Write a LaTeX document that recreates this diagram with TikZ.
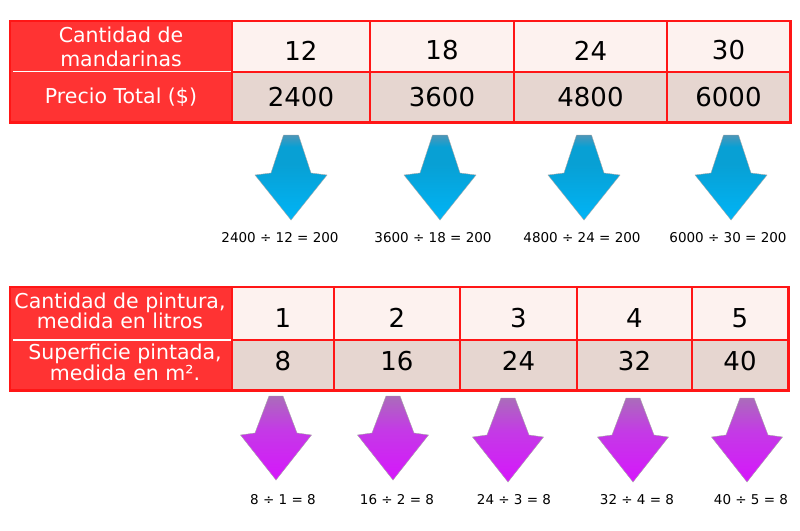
\documentclass[tikz,border=0pt]{standalone}
\usepackage{fontspec}
\setmainfont{DejaVu Sans}
\definecolor{hdred}{RGB}{255,51,51}
\definecolor{lnred}{RGB}{255,22,22}
\definecolor{rowtop}{RGB}{253,242,239}
\definecolor{rowbot}{RGB}{230,214,208}
\definecolor{bltop}{RGB}{78,150,184}
\definecolor{blmid}{RGB}{8,160,212}
\definecolor{blbot}{RGB}{0,180,246}
\definecolor{putop}{RGB}{170,108,186}
\definecolor{pumid}{RGB}{196,58,230}
\definecolor{pubot}{RGB}{214,22,252}
\pgfdeclareverticalshading{bluefade}{100bp}{color(0bp)=(blbot); color(25bp)=(blbot);
  color(58bp)=(blmid); color(68bp)=(blmid); color(75bp)=(bltop); color(100bp)=(bltop)}
\pgfdeclareverticalshading{purplefade}{100bp}{color(0bp)=(pubot); color(25bp)=(pubot);
  color(55bp)=(pumid); color(75bp)=(putop); color(100bp)=(putop)}
\tikzset{
  cell/.style={draw=lnred,line width=1.5pt,inner sep=0pt,font=\fontsize{26}{26}\selectfont},
  headbox/.style={fill=hdred,draw=lnred,line width=1.5pt,inner sep=0pt},
  headtext/.style={text=white,align=center,inner sep=0pt,font=\fontsize{20.5}{24}\selectfont},
  quot/.style={font=\fontsize{13.5}{13.5}\selectfont},
  bluearrow/.style={shading=bluefade,draw=black!35,line width=0.4pt},
  purplearrow/.style={shading=purplefade,draw=black!35,line width=0.4pt}
}
\begin{document}
\begin{tikzpicture}[x=1pt,y=-1pt]
\useasboundingbox (0,0) rectangle (800,530);
% tabla de mandarinas
\node[headbox,minimum width=222pt,minimum height=101pt] (hm) at (121,71.5) {};
\node[headtext] (hm1) at (121,47) {Cantidad de\\mandarinas};
\node[headtext] (hm2) at (121,97) {Precio Total (\$)};
\draw[white,line width=1.5pt] ([xshift=4pt]hm.west) -- ([xshift=-2pt]hm.east);
\foreach \xa/\xb/\va/\vb [count=\i] in {232/370/12/2400,370/514/18/3600,514/667/24/4800,667/790/30/6000}{
  \node[cell,fill=rowtop,text height=27pt,minimum width={(\xb-\xa)*1pt},minimum height=51pt] (m\i) at ({(\xa+\xb)/2},46.5) {\va};
  \node[cell,fill=rowbot,minimum width={(\xb-\xa)*1pt},minimum height=50pt] (p\i) at ({(\xa+\xb)/2},97) {\vb};
}
\draw[lnred,line width=1.5pt] (hm.north west) rectangle (p4.south east);
\foreach \cx in {291,440,584,731}
  \draw[bluearrow] (\cx-7.5,135) -- (\cx+7.5,135) -- (\cx+20,173) -- (\cx+36,175) -- (\cx,220)
    -- (\cx-36,175) -- (\cx-20,173) -- cycle;
\node[quot] (q1) at (280,238) {2400 ÷ 12 = 200};
\node[quot] (q2) at (433,238) {3600 ÷ 18 = 200};
\node[quot] (q3) at (582,238) {4800 ÷ 24 = 200};
\node[quot] (q4) at (728,238) {6000 ÷ 30 = 200};
% tabla de pintura
\node[headbox,minimum width=222pt,minimum height=103pt] (hp) at (121,338.5) {};
\node[headtext,font=\fontsize{20.5}{20}\selectfont] (hp1) at (120,311) {Cantidad de pintura,\\medida en litros};
\node[headtext,font=\fontsize{20.5}{19}\selectfont] (hp2) at (125,362) {Superficie pintada,\\medida en m².};
\draw[white,line width=1.5pt] ([xshift=4pt,yshift=-1.5pt]hp.west) -- ([xshift=-2pt,yshift=-1.5pt]hp.east);
\foreach \xa/\xb/\va/\vb [count=\i] in {232/334/1/8,334/460/2/16,460/577/3/24,577/692/4/32,692/788/5/40}{
  \node[cell,fill=rowtop,text height=28pt,minimum width={(\xb-\xa)*1pt},minimum height=53pt] (l\i) at ({(\xa+\xb)/2},313.5) {\va};
  \node[cell,fill=rowbot,text depth=8pt,minimum width={(\xb-\xa)*1pt},minimum height=50pt] (s\i) at ({(\xa+\xb)/2},365) {\vb};
}
\draw[lnred,line width=1.5pt] (hp.north west) rectangle (s5.south east);
\foreach \cx/\cy in {276/396,393/396,508/398,633/398,747/398}
  \draw[purplearrow] (\cx-7,\cy) -- (\cx+7,\cy) -- (\cx+21,\cy+37) -- (\cx+35.5,\cy+39) -- (\cx,\cy+84)
    -- (\cx-35.5,\cy+39) -- (\cx-21,\cy+37) -- cycle;
\node[quot] (r1) at (283,500) {8 ÷ 1 = 8};
\node[quot] (r2) at (397,500) {16 ÷ 2 = 8};
\node[quot] (r3) at (514,500) {24 ÷ 3 = 8};
\node[quot] (r4) at (637,500) {32 ÷ 4 = 8};
\node[quot] (r5) at (751,500) {40 ÷ 5 = 8};
\end{tikzpicture}
\end{document}
